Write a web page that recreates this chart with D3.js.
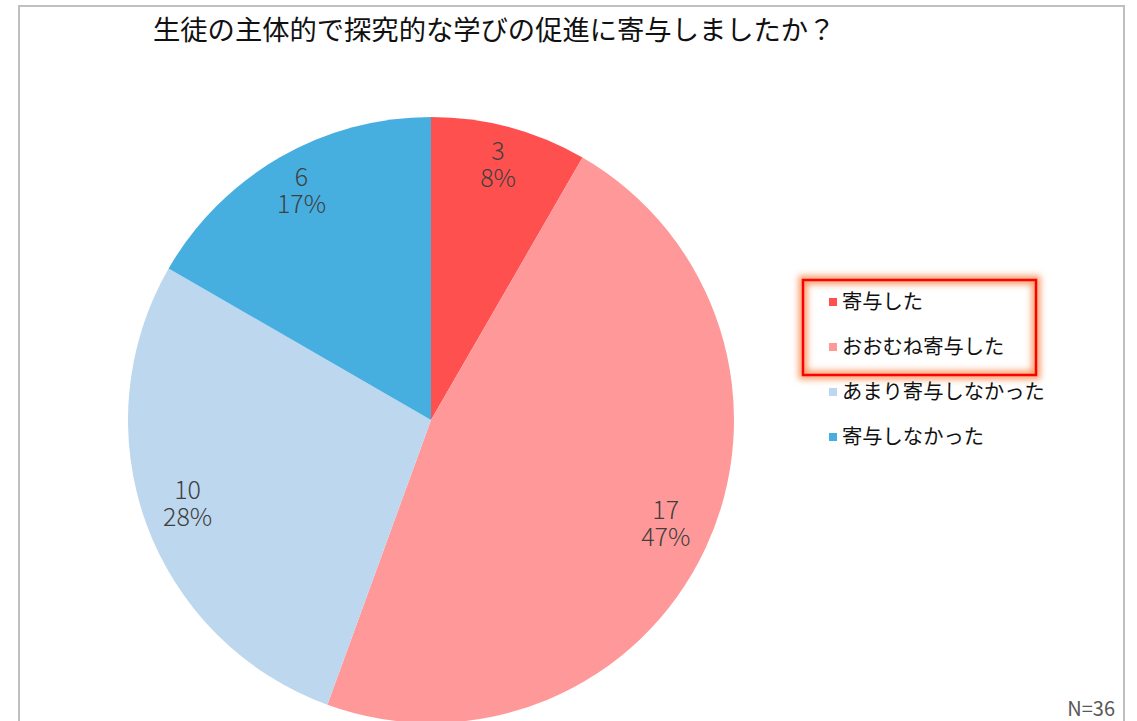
<!DOCTYPE html>
<html>
<head>
<meta charset="utf-8">
<script src="https://cdn.jsdelivr.net/npm/d3@7"></script>
<style>
  body { margin: 0; background: #fff; }
  text { font-family: "Noto Sans CJK JP", "Noto Sans", sans-serif; }
</style>
</head>
<body>
<svg width="1137" height="721"></svg>
<script>
const categories = ["寄与した", "おおむね寄与した", "あまり寄与しなかった", "寄与しなかった"];
const values = [3, 17, 10, 6];
const colors = ["#FF5050", "#FF9999", "#BDD7EE", "#47AFE0"];
const title = "生徒の主体的で探究的な学びの促進に寄与しましたか？";
const total = d3.sum(values);

const svg = d3.select("svg");

// outer frame
svg.append("rect")
  .attr("x", 19).attr("y", 6)
  .attr("width", 1105).attr("height", 730)
  .attr("fill", "none")
  .attr("stroke", "#BFBFBF")
  .attr("stroke-width", 2);

svg.append("text")
  .attr("x", 153).attr("y", 40)
  .attr("font-size", 27.3)
  .attr("fill", "#111")
  .text(title);

const cx = 431, cy = 420, r = 303;
const g = svg.append("g").attr("transform", `translate(${cx},${cy})`);

const pie = d3.pie().sort(null).value(d => d);
const arcs = pie(values);
const arc = d3.arc().innerRadius(0).outerRadius(r);
const labelArc = d3.arc().innerRadius(259).outerRadius(259);

g.selectAll("path")
  .data(arcs)
  .enter().append("path")
  .attr("d", arc)
  .attr("fill", (d, i) => colors[i]);

// value and percent as two lines
const lbl = g.selectAll(".lbl")
  .data(arcs)
  .enter().append("g")
  .attr("class", "lbl")
  .attr("transform", d => `translate(${labelArc.centroid(d)})`);

lbl.append("text")
  .attr("text-anchor", "middle")
  .attr("y", -10)
  .attr("font-size", 25)
  .attr("font-weight", 300)
  .attr("fill", "#404040")
  .text(d => d.value);

lbl.append("text")
  .attr("text-anchor", "middle")
  .attr("y", 17)
  .attr("font-size", 25)
  .attr("font-weight", 300)
  .attr("fill", "#404040")
  .text(d => Math.round(d.value / total * 100) + "%");

// highlight box with glow
const defs = svg.append("defs");
const glow = defs.append("filter").attr("id", "glow")
  .attr("x", "-20%").attr("y", "-40%").attr("width", "140%").attr("height", "180%");
glow.append("feGaussianBlur").attr("in", "SourceGraphic").attr("stdDeviation", 3);

svg.append("rect")
  .attr("x", 803).attr("y", 280).attr("width", 233).attr("height", 95)
  .attr("fill", "none")
  .attr("stroke", "#F8A070")
  .attr("stroke-width", 9)
  .attr("filter", "url(#glow)");
svg.append("rect")
  .attr("x", 803).attr("y", 280).attr("width", 233).attr("height", 95)
  .attr("fill", "none")
  .attr("stroke", "#FF0000")
  .attr("stroke-width", 2.5);

const legend = svg.append("g").attr("transform", "translate(829,302)");
const item = legend.selectAll("g")
  .data(categories)
  .enter().append("g")
  .attr("transform", (d, i) => `translate(0,${i * 45})`);

item.append("rect")
  .attr("x", 0).attr("y", -4)
  .attr("width", 8).attr("height", 8)
  .attr("fill", (d, i) => colors[i]);

item.append("text")
  .attr("x", 13).attr("y", 7)
  .attr("font-size", 20.3)
  .attr("fill", "#111")
  .text(d => d);

svg.append("text")
  .attr("x", 1115).attr("y", 716)
  .attr("text-anchor", "end")
  .attr("font-size", 20)
  .attr("fill", "#595959")
  .text("N=" + total);
</script>
</body>
</html>
